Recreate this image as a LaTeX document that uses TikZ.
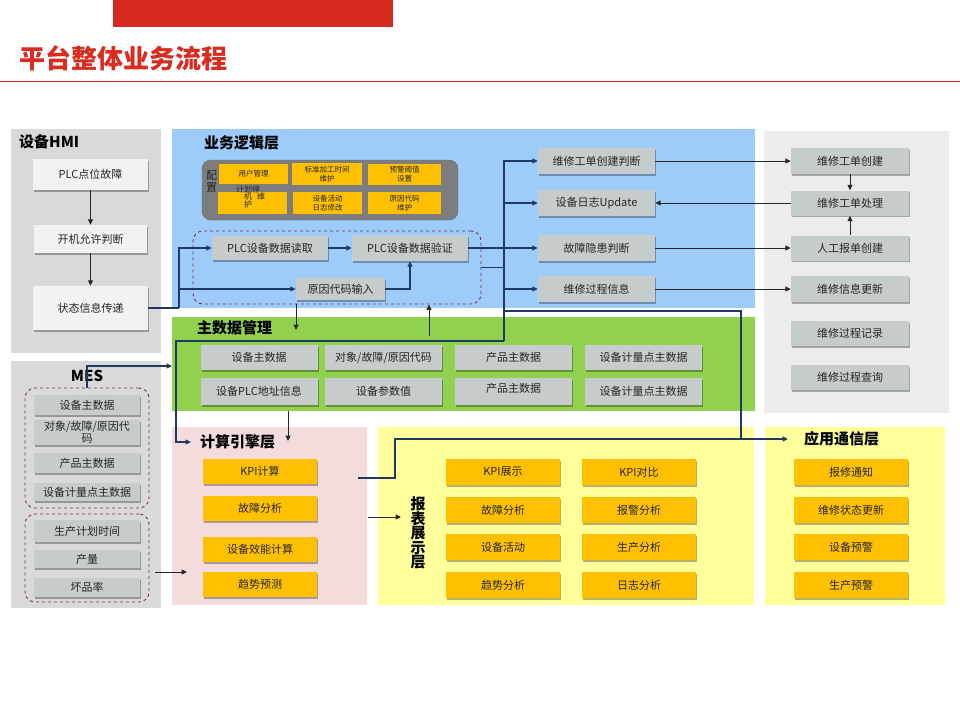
\documentclass[tikz,border=0pt]{standalone}
\usepackage{fontspec}
\setmainfont{Noto Sans CJK SC}
\usetikzlibrary{arrows.meta,shadows}
\definecolor{redt}{HTML}{D92B20}
\definecolor{redbar}{HTML}{D72A1E}
\definecolor{panelgray}{HTML}{D9D9D9}
\definecolor{lightpanel}{HTML}{ECECEC}
\definecolor{bluep}{HTML}{9DCBFA}
\definecolor{greenp}{HTML}{92D050}
\definecolor{pinkp}{HTML}{F5DCDC}
\definecolor{yellowp}{HTML}{FFFF9C}
\definecolor{boxgray}{HTML}{C6CBCB}
\definecolor{hmifill}{HTML}{F2F2F2}
\definecolor{orangeb}{HTML}{FFC000}
\definecolor{cfg}{HTML}{7D7D7D}
\definecolor{cfgdark}{HTML}{666666}
\definecolor{dashred}{HTML}{7F3040}
\definecolor{navy}{HTML}{1F3864}
\definecolor{darkline}{HTML}{262626}
\definecolor{txt}{HTML}{262626}
\tikzset{
  base/.style={inner sep=1pt, font=\fontsize{11}{13}\selectfont, text=txt, align=center},
  shad/.style={drop shadow={shadow xshift=1.2pt, shadow yshift=-1.8pt, opacity=0.3, fill=black}},
  hbox/.style={base, fill=hmifill, shad},
  gbox/.style={base, fill=boxgray, shad},
  ybox/.style={base, fill=orangeb, shad},
  cbox/.style={base, fill=orangeb, font=\fontsize{7.5}{9.5}\selectfont},
  ttl/.style={inner sep=1pt, font=\bfseries\fontsize{15}{15}\selectfont, text=black},
  grpbox/.style={draw=dashred, dashed, line width=0.9pt, rounded corners=10pt, inner sep=0pt},
  arr/.style={draw=navy, line width=1.1pt, -{Triangle[length=5.5pt,width=5pt]}},
  ln/.style={draw=navy, line width=1.1pt},
  barr/.style={draw=darkline, line width=1pt, -{Triangle[length=5.5pt,width=5pt]}},
}
\begin{document}
\begin{tikzpicture}[x=1pt,y=-1pt]
\useasboundingbox (0,0) rectangle (960,720);
\fill[white] (0,0) rectangle (960,720);
% header
\fill[redbar] (113,0) rectangle (393,27);
\node[anchor=west, inner sep=0, font=\bfseries\fontsize{26}{26}\selectfont, text=redt] (title) at (19,58) {平台整体业务流程};
\draw[redt, line width=0.8pt] (0,81) -- (960,81);
% panels
\fill[panelgray] (11,129) rectangle (161,353);
\fill[bluep] (172,129) rectangle (755,308);
\fill[lightpanel] (764,131) rectangle (949,413);
\fill[greenp] (172,317) rectangle (755,411);
\fill[panelgray] (11,361) rectangle (161,608);
\fill[pinkp] (172,427) rectangle (367,605);
\fill[yellowp] (378,427) rectangle (754,605);
\fill[yellowp] (765,427) rectangle (945,605);
% titles
\node[ttl, anchor=west] (hmit) at (18,142) {设备HMI};
\node[ttl, anchor=west] (bizt) at (203,143) {业务逻辑层};
\node[ttl, anchor=west] (mdt) at (196,328) {主数据管理};
\node[ttl] (mest) at (87,376) {MES};
\node[ttl, anchor=west] (calct) at (199,442) {计算引擎层};
\node[ttl, align=center, font=\bfseries\fontsize{15}{14.6}\selectfont] (rept) at (418,533) {报\\表\\展\\示\\层};
\node[ttl, anchor=west] (appt) at (803,439) {应用通信层};
% HMI
\node[hbox, minimum width=115pt, minimum height=31pt] (h1) at (90.5,174.5) {PLC点位故障};
\node[hbox, minimum width=113pt, minimum height=28pt] (h2) at (90.5,239) {开机允许判断};
\node[hbox, minimum width=115pt, minimum height=44pt] (h3) at (90.5,308) {状态信息传递};
% config
\node[draw=cfgdark, fill=cfg, rounded corners=9pt, minimum width=256pt, minimum height=60pt, inner sep=0pt] (cfgbox) at (330,190) {};
\node[inner sep=0pt, font=\fontsize{11}{12.5}\selectfont, text=txt, align=center] (cfgt) at (211.5,181.5) {配\\置};
\node[cbox, minimum width=69pt, minimum height=20pt] (c1) at (253.5,174) {用户管理};
\node[cbox, minimum width=70pt, minimum height=22pt] (c2) at (327,174) {标准加工时间\\维护};
\node[cbox, minimum width=73pt, minimum height=21pt] (c3) at (404.5,174) {预警阈值\\设置};
\node[cbox, minimum width=69pt, minimum height=22pt] (c4) at (252.5,203) {};
\node[inner sep=0pt, anchor=north west, font=\fontsize{8}{7.5}\selectfont, text=txt, align=left] (c4t) at (236,185.5) {计划停\\\hspace{8pt}机\hspace{5pt}维\\\hspace{8pt}护};
\node[cbox, minimum width=69pt, minimum height=22pt] (c5) at (327.5,203) {设备活动\\日志修改};
\node[cbox, minimum width=73pt, minimum height=22pt] (c6) at (404.5,203) {原因代码\\维护};
% business group
\node[grpbox, minimum width=288pt, minimum height=73pt] (grp) at (337,267.5) {};
\node[gbox, minimum width=116pt, minimum height=24pt] (p1) at (270,248) {PLC设备数据读取};
\node[gbox, minimum width=116pt, minimum height=26pt] (p2) at (410,248) {PLC设备数据验证};
\node[gbox, minimum width=89pt, minimum height=22pt] (p3) at (340.5,289) {原因代码输入};
\node[gbox, minimum width=117pt, minimum height=26pt] (r1) at (596.5,161) {维修工单创建判断};
\node[gbox, minimum width=117pt, minimum height=26pt] (r2) at (596.5,203) {设备日志Update};
\node[gbox, minimum width=117pt, minimum height=26pt] (r3) at (596.5,248) {故障隐患判断};
\node[gbox, minimum width=117pt, minimum height=26pt] (r4) at (596.5,289) {维修过程信息};
% right panel
\node[gbox, minimum width=118pt, minimum height=26pt] (s1) at (850,161) {维修工单创建};
\node[gbox, minimum width=118pt, minimum height=25pt] (s2) at (850,203) {维修工单处理};
\node[gbox, minimum width=118pt, minimum height=25pt] (s3) at (850,248) {人工报单创建};
\node[gbox, minimum width=118pt, minimum height=26pt] (s4) at (850,289) {维修信息更新};
\node[gbox, minimum width=118pt, minimum height=25pt] (s5) at (850,333.5) {维修过程记录};
\node[gbox, minimum width=118pt, minimum height=25pt] (s6) at (850,377.5) {维修过程查询};
% master data
\node[gbox, minimum width=117pt, minimum height=25pt] (m1) at (259,357.5) {设备主数据};
\node[gbox, minimum width=117pt, minimum height=25pt] (m2) at (383.5,357.5) {对象/故障/原因代码};
\node[gbox, minimum width=117pt, minimum height=25pt] (m3) at (513.5,357.5) {产品主数据};
\node[gbox, minimum width=117pt, minimum height=25pt] (m4) at (643.5,357.5) {设备计量点主数据};
\node[gbox, minimum width=117pt, minimum height=27pt] (m5) at (259,391.5) {设备PLC地址信息};
\node[gbox, minimum width=117pt, minimum height=27pt] (m6) at (383.5,391.5) {设备参数值};
\node[gbox, minimum width=117pt, minimum height=27pt] (m7) at (513.5,391.5) {\raisebox{7pt}{产品主数据}};
\node[gbox, minimum width=117pt, minimum height=27pt] (m8) at (643.5,391.5) {设备计量点主数据};
% MES
\node[grpbox, minimum width=124pt, minimum height=120pt] (mg1) at (87,448) {};
\node[grpbox, minimum width=124pt, minimum height=88pt] (mg2) at (87,558) {};
\node[gbox, minimum width=106pt, minimum height=20pt] (e1) at (87,405) {设备主数据};
\node[gbox, minimum width=106pt, minimum height=25pt, font=\fontsize{11}{12}\selectfont] (e2) at (87,432.5) {对象/故障/原因代\\码};
\node[gbox, minimum width=106pt, minimum height=20pt] (e3) at (87,463) {产品主数据};
\node[gbox, minimum width=106pt, minimum height=18pt] (e4) at (87,492) {设备计量点主数据};
\node[gbox, minimum width=106pt, minimum height=22pt] (e5) at (87,531) {生产计划时间};
\node[gbox, minimum width=106pt, minimum height=18pt] (e6) at (87,559) {产量};
\node[gbox, minimum width=106pt, minimum height=19pt] (e7) at (87,587.5) {坏品率};
% calc engine
\node[ybox, minimum width=114pt, minimum height=25pt] (k1) at (260,471.5) {KPI计算};
\node[ybox, minimum width=114pt, minimum height=25pt] (k2) at (260,508.5) {故障分析};
\node[ybox, minimum width=114pt, minimum height=25pt] (k3) at (260,549.5) {设备效能计算};
\node[ybox, minimum width=114pt, minimum height=25pt] (k4) at (260,584.5) {趋势预测};
% report
\node[ybox, minimum width=114pt, minimum height=26pt] (v1) at (503,472) {KPI展示};
\node[ybox, minimum width=114pt, minimum height=26pt] (v2) at (639,472) {KPI对比};
\node[ybox, minimum width=114pt, minimum height=26pt] (v3) at (503,510) {故障分析};
\node[ybox, minimum width=114pt, minimum height=26pt] (v4) at (639,510) {报警分析};
\node[ybox, minimum width=114pt, minimum height=26pt] (v5) at (503,547) {设备活动};
\node[ybox, minimum width=114pt, minimum height=26pt] (v6) at (639,547) {生产分析};
\node[ybox, minimum width=114pt, minimum height=26pt] (v7) at (503,585) {趋势分析};
\node[ybox, minimum width=114pt, minimum height=26pt] (v8) at (639,585) {日志分析};
% app comm
\node[ybox, minimum width=114pt, minimum height=26pt] (a1) at (851,472) {报修通知};
\node[ybox, minimum width=114pt, minimum height=26pt] (a2) at (851,510) {维修状态更新};
\node[ybox, minimum width=114pt, minimum height=26pt] (a3) at (851,547) {设备预警};
\node[ybox, minimum width=114pt, minimum height=26pt] (a4) at (851,585) {生产预警};
% connectors
\draw[barr] (h1.south) -- (h2.north);
\draw[barr] (h2.south) -- (h3.north);
\coordinate (j1) at (179,308);
\draw[ln] (h3.east) -- (j1);
\draw[arr] (j1) |- (p1.west);
\draw[arr] (j1) |- (p3.west);
\draw[arr] (p1.east) -- (p2.west);
\draw[arr] (p3.east) -| (p2.south);
\draw[arr] (p2.east) -- (r3.west);
\coordinate (bx) at (504,267.5);
\coordinate (b1) at (504,311);
\coordinate (b2) at (741,439);
\coordinate (b3) at (504,341);
\coordinate (b4) at (176,341);
\draw[ln] (grp.east) -- (bx);
\draw[arr] (bx) |- (r1.west);
\draw[arr] (bx) |- (r2.west);
\draw[arr] (bx) |- (r4.west);
\draw[ln] (bx) -- (b3);
\draw[arr, shorten >=15pt] (b1) -| (b2) -- (appt.west);
\draw[arr, shorten >=8pt] (b3) -- (b4) |- (calct.west);
\coordinate (k0) at (358,478);
\coordinate (kc) at (395,439);
\draw[ln] (k0) -| (kc) -- (b2);
\coordinate (g1) at (296,304);
\coordinate (g2) at (296,330);
\draw[barr] (g1) -- (g2);
\coordinate (g3) at (429,336);
\draw[barr] (g3) -- (grp.south -| g3);
\coordinate (g4) at (288,411);
\coordinate (g5) at (288,441);
\draw[barr] (g4) -- (g5);
\coordinate (q1) at (87,366);
\coordinate (q2) at (172,366);
\draw[arr] (mg1.north) -- (q1) -- (q2);
\coordinate (q3) at (155,572);
\coordinate (q4) at (187,572);
\draw[barr] (q3) -- (q4);
\coordinate (q5) at (368,517);
\coordinate (q6) at (401,517);
\draw[barr] (q5) -- (q6);
\draw[barr] (r1.east) -- (s1.west);
\draw[barr] (s2.west) -- (r2.east);
\draw[barr] (r3.east) -- (s3.west);
\draw[barr] (r4.east) -- (s4.west);
\draw[barr] (s1.south) -- (s2.north);
\draw[barr] (s3.north) -- (s2.south);
\end{tikzpicture}
\end{document}
